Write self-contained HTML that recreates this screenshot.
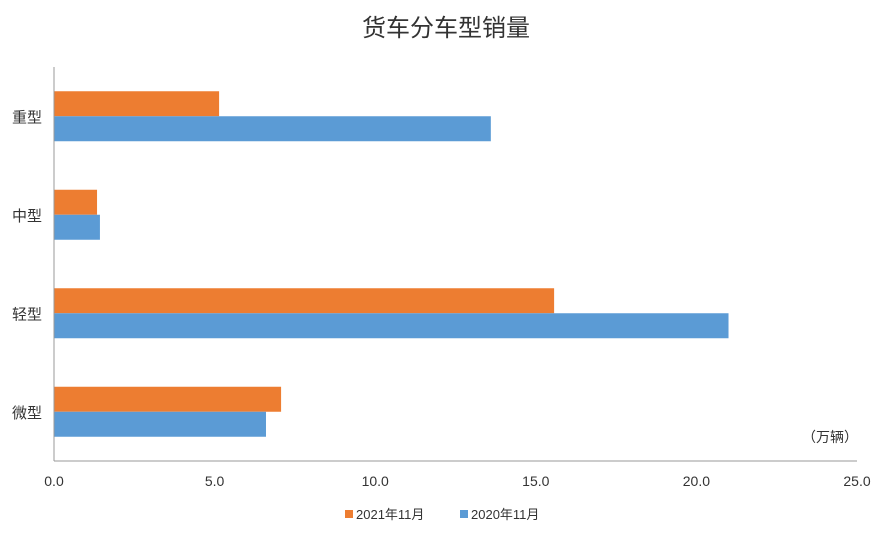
<!DOCTYPE html>
<html><head><meta charset="utf-8"><style>
body{margin:0;background:#fff;font-family:"Liberation Sans","Noto Sans CJK SC",sans-serif;}
svg text{font-family:"Liberation Sans","Noto Sans CJK SC",sans-serif;}
</style></head><body>
<svg id="chart" width="892" height="534">
<text x="446" y="36" text-anchor="middle" font-size="24" fill="#333">货车分车型销量</text>
<text x="858" y="442" text-anchor="end" font-size="14" fill="#333">（万辆）</text>
<g id="plot"></g>
<g>
<rect x="345" y="510" width="8" height="8" fill="#ED7D31"/>
<text x="356" y="519" font-size="13" fill="#333">2021年11月</text>
<rect x="460" y="510" width="8" height="8" fill="#5B9BD5"/>
<text x="471" y="519" font-size="13" fill="#333">2020年11月</text>
</g>
</svg>
<script>
const categories=["重型","中型","轻型","微型"];
const series2021=[5.14,1.34,15.57,7.07];
const series2020=[13.6,1.43,21.0,6.6];
const tickValues=[0,5,10,15,20,25];
const tickLabels=["0.0","5.0","10.0","15.0","20.0","25.0"];
const ns="http://www.w3.org/2000/svg";
const plotG=document.getElementById("plot");
const x0=54,x1=857,plotTop=67,plotBottom=461,xmax=25;
const xs=v=>x0+v/xmax*(x1-x0);
const band=(plotBottom-plotTop)/categories.length;
function mk(t,a){const e=document.createElementNS(ns,t);for(const k in a)e.setAttribute(k,a[k]);plotG.appendChild(e);return e;}
categories.forEach((c,i)=>{
 const cy=plotTop+band*i+band/2;
 let r=mk("rect",{x:x0,y:cy-25,width:xs(series2021[i])-x0,height:25,fill:"#ED7D31"});
 
 
 r=mk("rect",{x:x0,y:cy,width:xs(series2020[i])-x0,height:25,fill:"#5B9BD5"});
 
 
 const t=mk("text",{x:x0-12,y:cy+6,"text-anchor":"end","font-size":"15",fill:"#333"});
 t.textContent=c;
 
 
});
let l=mk("line",{x1:x0,y1:plotTop,x2:x0,y2:plotBottom,stroke:"#999","stroke-width":1});


l=mk("line",{x1:x0,y1:plotBottom,x2:x1,y2:plotBottom,stroke:"#999","stroke-width":1});


tickValues.forEach((v,i)=>{
 const t=mk("text",{x:xs(v),y:486,"text-anchor":"middle","font-size":"14",fill:"#333"});
 t.textContent=tickLabels[i];
 
 
});
</script>
</body></html>
